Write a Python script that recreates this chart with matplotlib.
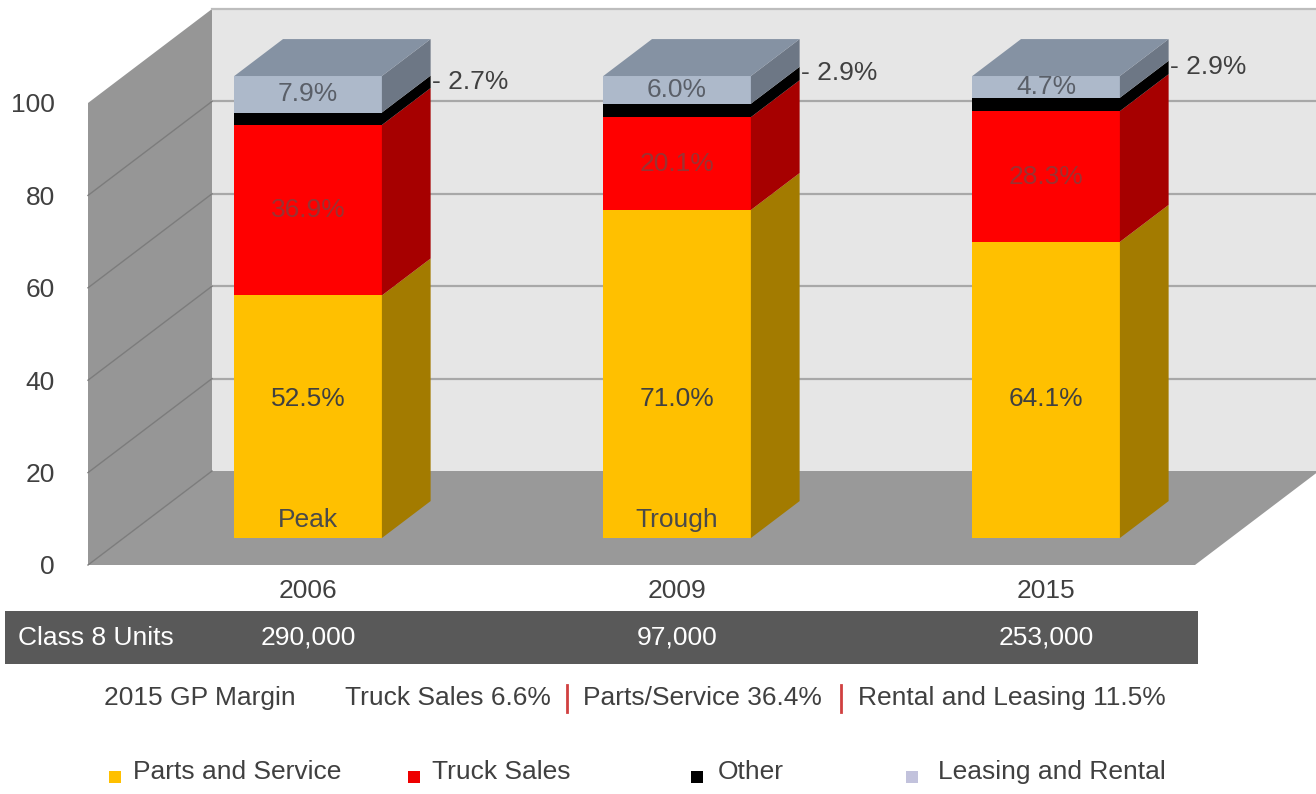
import matplotlib
matplotlib.use('Agg')
import matplotlib.pyplot as plt
from matplotlib.patches import Polygon, Rectangle
from matplotlib.lines import Line2D
import matplotlib.transforms as mtransforms

# ---------------- data ----------------
years = ['2006', '2009', '2015']
phase_notes = ['Peak', 'Trough', '']
parts_service = [52.5, 71.0, 64.1]
truck_sales = [36.9, 20.1, 28.3]
other = [2.7, 2.9, 2.9]
leasing_rental = [7.9, 6.0, 4.7]
series_names = ['Parts and Service', 'Truck Sales', 'Other', 'Leasing and Rental']
class8_label = 'Class 8 Units'
class8_units = ['290,000', '97,000', '253,000']
gp_title = '2015 GP Margin'
gp_items = ['Truck Sales 6.6%', 'Parts/Service 36.4%', 'Rental and Leasing 11.5%']
yticks = [0, 20, 40, 60, 80, 100]

# ---------------- style ----------------
FONT = ['Liberation Sans Narrow', 'Liberation Sans', 'DejaVu Sans']
plt.rcParams['font.family'] = FONT
TXT = '#404040'
FS = 19

front_cols = ['#FFC000', '#FF0000', '#000000', '#ADB9CA']
side_cols = ['#A37B00', '#A60000', '#000000', '#6D7785']
top_col = '#8592A3'
legend_cols = ['#FFC000', '#EE0000', '#000000', '#C2C2DC']

W, H = 1316, 794
fig = plt.figure(figsize=(W / 100, H / 100), dpi=100)
fig.patch.set_facecolor('white')
ax = fig.add_axes([88 / W, 1 - 565 / H, 1107 / W, 462 / H])
ax.set_xlim(-0.5, 2.5)
ax.set_ylim(0, 100)
ax.patch.set_visible(False)
for s in ax.spines.values():
    s.set_visible(False)

# oblique depth vector (full depth) in data units
DX, DY = 124 / 369, 94 / 4.62


def P(x, v, d):
    return (x + d * DX, v + d * DY)


x0, x1 = -0.5, 2.5
# walls and floor
ax.add_patch(Polygon([P(x0, 0, 0), P(x0, 0, 1), P(x0, 100, 1), P(x0, 100, 0)],
                     closed=True, fc='#969696', ec='none', zorder=0, clip_on=False))
ax.add_patch(Polygon([P(x0, 0, 1), P(x1, 0, 1), P(x1, 100, 1), P(x0, 100, 1)],
                     closed=True, fc='#E6E6E6', ec='none', zorder=0, clip_on=False))
ax.add_patch(Polygon([P(x0, 0, 0), P(x1, 0, 0), P(x1, 0, 1), P(x0, 0, 1)],
                     closed=True, fc='#999999', ec='none', zorder=0.2, clip_on=False))

for v in yticks:
    a, b = P(x0, v, 1), P(x1, v, 1)
    if 0 < v:
        ax.add_line(Line2D([a[0], b[0]], [a[1], b[1]], color='#A8A8A8' if v < 100 else '#BDBDBD',
                           lw=1.6, zorder=0.5, clip_on=False))
    if v < 100:
        c = P(x0, v, 0)
        ax.add_line(Line2D([c[0], a[0]], [c[1], a[1]], color='#7C7C7C', lw=1.0,
                           zorder=0.5, clip_on=False))

# bars
hw = 0.2
d0, d1 = 0.287, 0.68
for i in range(len(years)):
    vals = [parts_service[i], truck_sales[i], other[i], leasing_rental[i]]
    base = 0.0
    for k, val in enumerate(vals):
        ax.bar(i + d0 * DX, val, width=2 * hw, bottom=base + d0 * DY,
               color=front_cols[k], edgecolor='none', zorder=2, clip_on=False)
        ax.add_patch(Polygon([P(i + hw, base, d0), P(i + hw, base, d1),
                              P(i + hw, base + val, d1), P(i + hw, base + val, d0)],
                             closed=True, fc=side_cols[k], ec='none', zorder=2, clip_on=False))
        base += val
    ax.add_patch(Polygon([P(i - hw, base, d0), P(i + hw, base, d0),
                          P(i + hw, base, d1), P(i - hw, base, d1)],
                         closed=True, fc=top_col, ec='none', zorder=2, clip_on=False))

    cx = i + d0 * DX
    # value labels
    ax.text(cx, 30 + d0 * DY, f'{parts_service[i]:.1f}%', ha='center', va='center',
            fontsize=FS, color=TXT, zorder=5)
    ax.text(cx, parts_service[i] + truck_sales[i] / 2 + d0 * DY, f'{truck_sales[i]:.1f}%',
            ha='center', va='center', fontsize=FS, color='#9A3232', zorder=5)
    ax.text(cx, 100 - leasing_rental[i] / 2 + d0 * DY, f'{leasing_rental[i]:.1f}%',
            ha='center', va='center', fontsize=FS, color='#5A5F68', zorder=5)
    px, py = P(i + hw, parts_service[i] + truck_sales[i] + other[i] / 2, d1)
    ax.text(px + 0.003, py, f'- {other[i]:.1f}%', ha='left', va='center',
            fontsize=FS, color=TXT, zorder=5)
    if phase_notes[i]:
        ax.text(cx, 4 + d0 * DY, phase_notes[i], ha='center', va='center',
                fontsize=FS, color='#4A4A4A', zorder=5)

# axes ticks
ax.set_yticks(yticks)
ax.set_yticklabels([str(t) for t in yticks])
ax.tick_params(axis='y', length=0, pad=24, labelsize=FS, labelcolor=TXT)
ax.set_xticks([i + d0 * DX for i in range(len(years))])
ax.set_xticklabels(years)
ax.tick_params(axis='x', length=0, pad=10, labelsize=FS, labelcolor=TXT)


def fx(px):
    return px / W


def fy(py):
    return 1 - py / H


# Class 8 band
fig.patches.append(Rectangle((fx(5), fy(664)), 1193 / W, 53 / H, transform=fig.transFigure,
                             fc='#595959', ec='none', zorder=1))
fig.text(fx(18), fy(638), class8_label, ha='left', va='center', fontsize=FS, color='white', zorder=3)
blend = mtransforms.blended_transform_factory(ax.transData, fig.transFigure)
for i, u in enumerate(class8_units):
    fig.text(i + d0 * DX, fy(638), u, transform=blend, ha='center', va='center',
             fontsize=FS, color='white', zorder=3)

# GP margin line
gy = fy(698)
fig.text(fx(104), gy, gp_title, ha='left', va='center', fontsize=FS, color=TXT)
gp_x = [345, 583, 858]
sep_x = [567, 841]
for xx, t in zip(gp_x, gp_items):
    fig.text(fx(xx), gy, t, ha='left', va='center', fontsize=FS, color=TXT)
for xx in sep_x:
    fig.lines.append(Line2D([fx(xx), fx(xx)], [fy(685), fy(712)], transform=fig.transFigure,
                            color='#D04040', lw=2))

# legend
mark_x = [115, 414, 697, 912]
text_x = [133, 432, 718, 938]
for mx, tx, c, name in zip(mark_x, text_x, legend_cols, series_names):
    fig.patches.append(Rectangle((fx(mx - 6), fy(783)), 12 / W, 12 / H, transform=fig.transFigure,
                                 fc=c, ec='none'))
    fig.text(fx(tx), fy(772), name, ha='left', va='center', fontsize=FS, color=TXT)

fig.savefig('out.png', dpi=100, facecolor='white')
